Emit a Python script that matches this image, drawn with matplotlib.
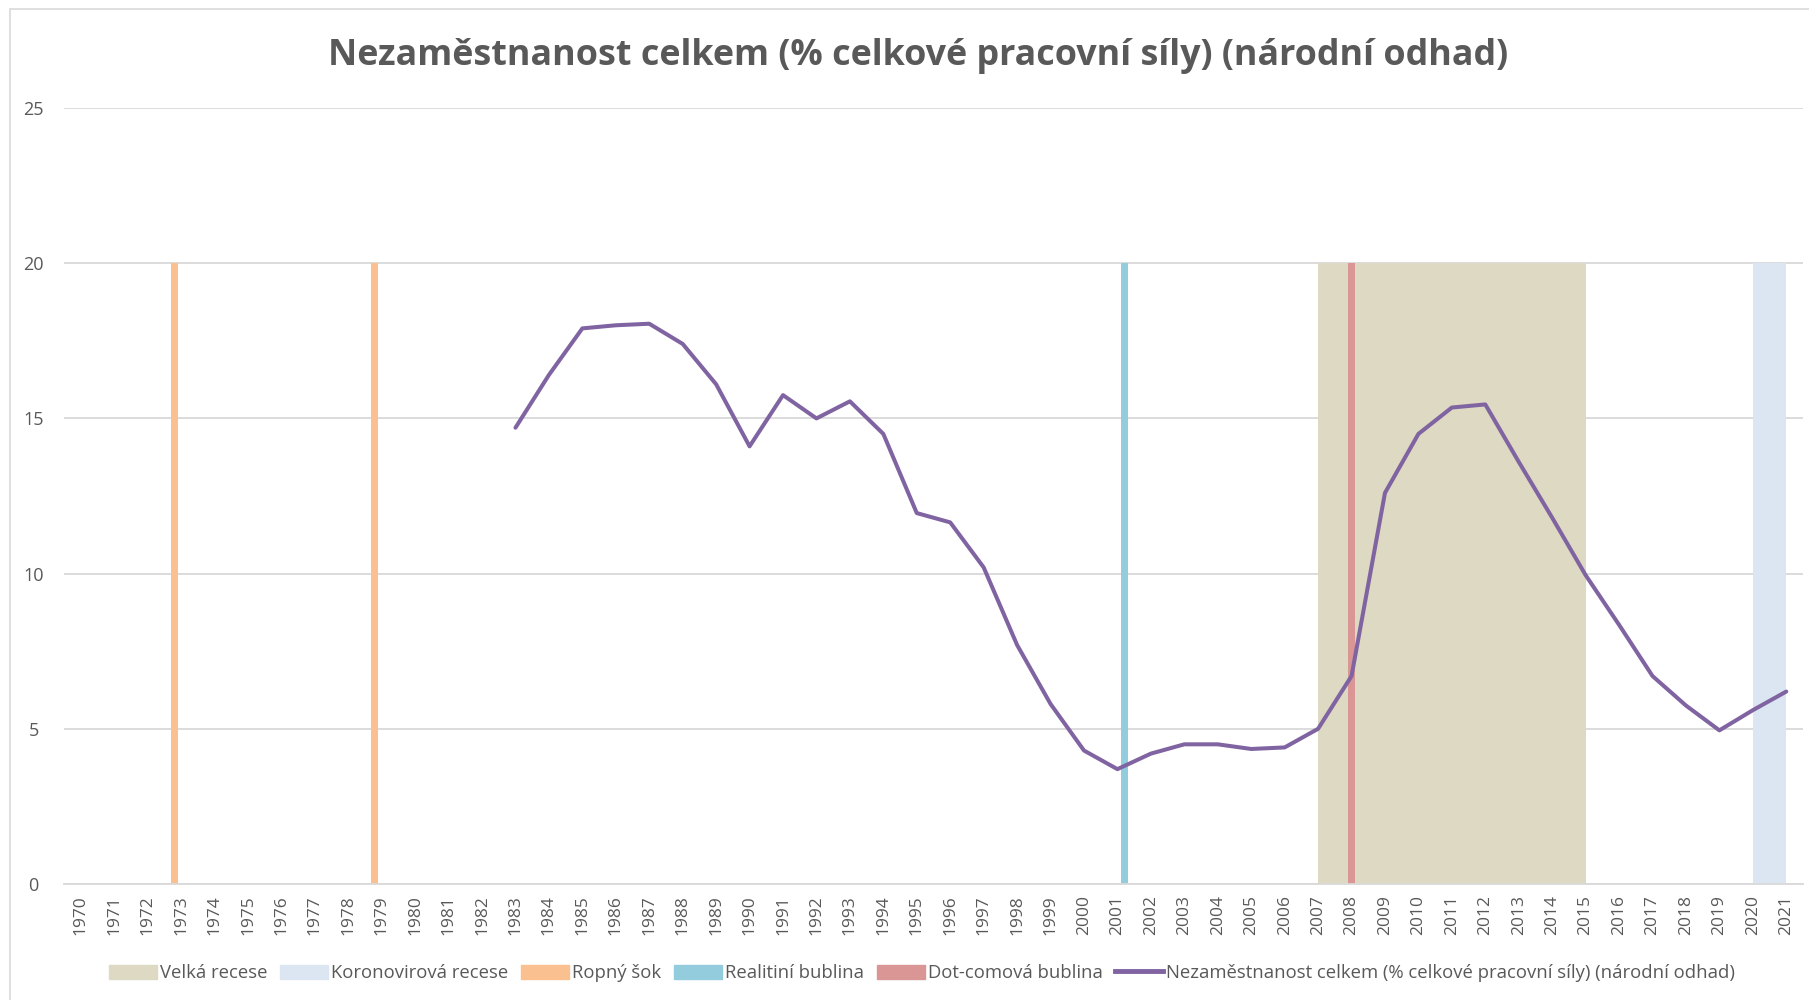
import numpy as np
import matplotlib.pyplot as plt
from matplotlib.patches import Patch, Rectangle
from matplotlib.lines import Line2D

plt.rcParams['font.family'] = ['Open Sans', 'DejaVu Sans']

# data
years = list(range(1970, 2022))
line_years = list(range(1983, 2022))
unemployment = [14.7, 16.4, 17.9, 18.0, 18.05, 17.4, 16.1, 14.1, 15.75, 15.0,
                15.55, 14.5, 11.95, 11.65, 10.2, 7.7, 5.8, 4.3, 3.7, 4.2,
                4.5, 4.5, 4.35, 4.4, 5.0, 6.7, 12.6, 14.5, 15.35, 15.45,
                13.6, 11.8, 9.95, 8.35, 6.7, 5.75, 4.95, 5.6, 6.2]

band_height = 20
great_recession_years = [2007, 2015]
covid_years = [2020, 2021]
oil_shock_years = [1973, 1979]
housing_years = [2001]
dotcom_years = [2008]

series_name = 'Nezaměstnanost celkem (% celkové pracovní síly) (národní odhad)'
title = 'Nezaměstnanost celkem (% celkové pracovní síly) (národní odhad)'

c_great = '#DDD9C3'
c_covid = '#DCE6F2'
c_oil = '#FAC090'
c_housing = '#93CDDD'
c_dotcom = '#D99694'
c_line = '#8064A2'
c_text = '#595959'
c_grid = '#D9D9D9'

fig = plt.figure(figsize=(18.09, 10), dpi=100)
ax = fig.add_axes([64 / 1809, 0.116, (1803 - 64) / 1809, 0.776])

# chart area border
fig.patches.append(Rectangle((10 / 1809, -0.01), 1.0, 1 - 9 / 1000 + 0.01,
                             transform=fig.transFigure, fill=False,
                             edgecolor=c_grid, linewidth=1.2, zorder=0))

# x positions are category indices
xi = {y: i for i, y in enumerate(years)}

ax.fill_between([xi[y] for y in great_recession_years], 0, band_height,
                color=c_great, linewidth=0, zorder=1)
ax.fill_between([xi[y] for y in covid_years], 0, band_height,
                color=c_covid, linewidth=0, zorder=1)

bw = 0.21
ax.bar([xi[y] - 0.21 for y in oil_shock_years], [band_height] * len(oil_shock_years),
       width=bw, color=c_oil, zorder=2)
ax.bar([xi[y] + 0.22 for y in housing_years], [band_height] * len(housing_years),
       width=bw, color=c_housing, zorder=2)
ax.bar([xi[y] for y in dotcom_years], [band_height] * len(dotcom_years),
       width=bw, color=c_dotcom, zorder=2)

ax.plot([xi[y] for y in line_years], unemployment, color=c_line, lw=2.9,
        solid_joinstyle='round', solid_capstyle='round', zorder=3)

ax.set_xlim(-0.5, len(years) - 0.5)
ax.set_ylim(0, 25)
ax.set_yticks([0, 5, 10, 15, 20, 25])
ax.set_xticks(range(len(years)))
ax.set_xticklabels([str(y) for y in years], rotation=90)
ax.tick_params(axis='x', length=0, labelsize=12.5, labelcolor=c_text, pad=8)
ax.tick_params(axis='y', length=0, labelsize=13, labelcolor=c_text, pad=22)
for lab in ax.get_yticklabels():
    lab.set_horizontalalignment('center')
ax.yaxis.grid(True, color=c_grid, lw=1.3)
ax.set_axisbelow(True)
for s in ['top', 'right', 'left']:
    ax.spines[s].set_visible(False)
ax.spines['bottom'].set_color(c_grid)
ax.spines['bottom'].set_linewidth(1.3)

fig.text(918 / 1809, 1 - 56 / 1000, title, ha='center', va='center',
         fontsize=25.8, fontweight='bold', color=c_text)

handles = [Patch(color=c_great), Patch(color=c_covid), Patch(color=c_oil),
           Patch(color=c_housing), Patch(color=c_dotcom),
           Line2D([], [], color=c_line, lw=3.5)]
labels = ['Velká recese', 'Koronovirová recese', 'Ropný šok', 'Realitiní bublina',
          'Dot-comová bublina', series_name]
leg = fig.legend(handles, labels, loc='center', bbox_to_anchor=(922 / 1809, 0.027),
                 ncol=6, frameon=False, fontsize=13.3, handlelength=2.6,
                 handleheight=0.8, handletextpad=0.15, columnspacing=0.7)
for t in leg.get_texts():
    t.set_color(c_text)

fig.savefig('out.png', dpi=100)
